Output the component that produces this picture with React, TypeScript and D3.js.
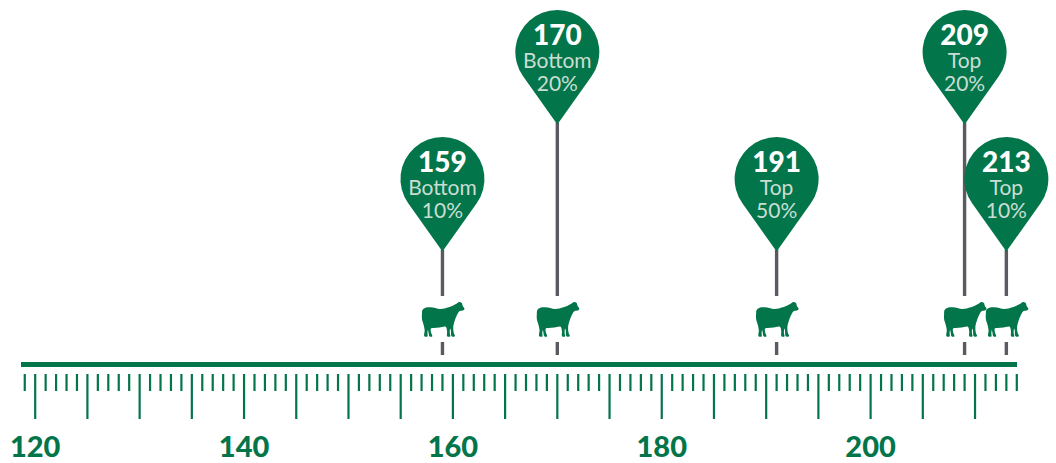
import React from "react";
import * as d3 from "d3";

const pinValues = [159, 170, 191, 209, 213];
const pinGroups = ["Bottom", "Bottom", "Top", "Top", "Top"];
const pinShares = ["10%", "20%", "50%", "20%", "10%"];
const pinLevels = [0, 1, 0, 1, 0];
const axisLabels = [120, 140, 160, 180, 200];

const GREEN = "#03754a";
const GREY = "#5b5a63";
const x = d3.scaleLinear().domain([120, 200]).range([35.2, 870.6]);
const pinTop = d3.scaleLinear().domain([0, 1]).range([137, 10]);
const ticks = d3.range(119, 215);

const R = 42;
const H = 114.5;
function pinPath(cx: number, top: number) {
  const cy = top + R;
  const d = H - R;
  const a = Math.acos(R / d);
  const start = Math.PI / 2 - a;
  const end = Math.PI / 2 + a;
  const p = d3.path();
  p.moveTo(cx, top + H);
  p.lineTo(cx + R * Math.cos(start), cy + R * Math.sin(start));
  p.arc(cx, cy, R, start, end, true);
  p.closePath();
  return p.toString();
}

const sheepOutline: [number, number][] = [
  [-20.5, 12], [-20, 8], [-17.5, 6], [-12, 5.3], [-2, 7], [6.3, 5.3], [13, 2.3], [17, 0],
  [19.3, 1], [20.3, 4], [22, 7], [21, 8.2], [17.3, 9], [14.5, 13], [12, 19.5], [10.8, 24.5],
  [11.3, 31], [12.5, 34.3], [9.5, 34.5], [8.3, 28], [7.8, 26.5], [7.3, 31], [7.8, 34.5], [5, 34.5], [4.6, 29], [3.5, 25],
  [-3, 25.5], [-9, 26], [-11.5, 26.5], [-11.5, 30], [-10.3, 34.5], [-12.8, 34.5], [-14, 30], [-14.5, 28], [-15, 31], [-15, 34.5],
  [-17.8, 34.5], [-17.8, 28], [-18.8, 23], [-20.5, 17],
];
const sheepPath = d3.line().curve(d3.curveCatmullRomClosed.alpha(0.9))(sheepOutline) as string;

export default function App() {
  return (
    <svg
      width={1056}
      height={463}
      viewBox="0 0 1056 463"
      style={{ position: "absolute", left: 0, top: 0, background: "#fff" }}
      fontFamily="Lato, Carlito, sans-serif"
    >
      <rect x={21} y={362} width={996} height={5} fill={GREEN} />
      {ticks.map((t) => (
        <line
          key={t}
          x1={x(t)}
          x2={x(t)}
          y1={374}
          y2={t % 5 === 0 ? 419 : 391}
          stroke={GREEN}
          strokeWidth={2.2}
        />
      ))}
      {axisLabels.map((t) => (
        <text key={t} x={x(t)} y={457} textAnchor="middle" fontSize={29} fontWeight={900} fill={GREEN}>
          {t}
        </text>
      ))}
      {pinValues.map((v, i) => {
        const cx = x(v);
        const top = pinTop(pinLevels[i]);
        return (
          <g key={v}>
            <line x1={cx} x2={cx} y1={top + H - 2} y2={296} stroke={GREY} strokeWidth={3.4} />
            <line x1={cx} x2={cx} y1={342} y2={355} stroke={GREY} strokeWidth={3.4} />
            <path d={sheepPath} transform={`translate(${cx},302)`} fill={GREEN} />
            <path d={pinPath(cx, top)} fill={GREEN} />
            <text x={cx} y={top + 35} textAnchor="middle" fontSize={28} fontWeight={900} fill="#fff">
              {v}
            </text>
            <text x={cx} y={top + 58} textAnchor="middle" fontSize={21} fill="#c9ded3">
              {pinGroups[i]}
            </text>
            <text x={cx} y={top + 81} textAnchor="middle" fontSize={21} fill="#c9ded3">
              {pinShares[i]}
            </text>
          </g>
        );
      })}
    </svg>
  );
}
